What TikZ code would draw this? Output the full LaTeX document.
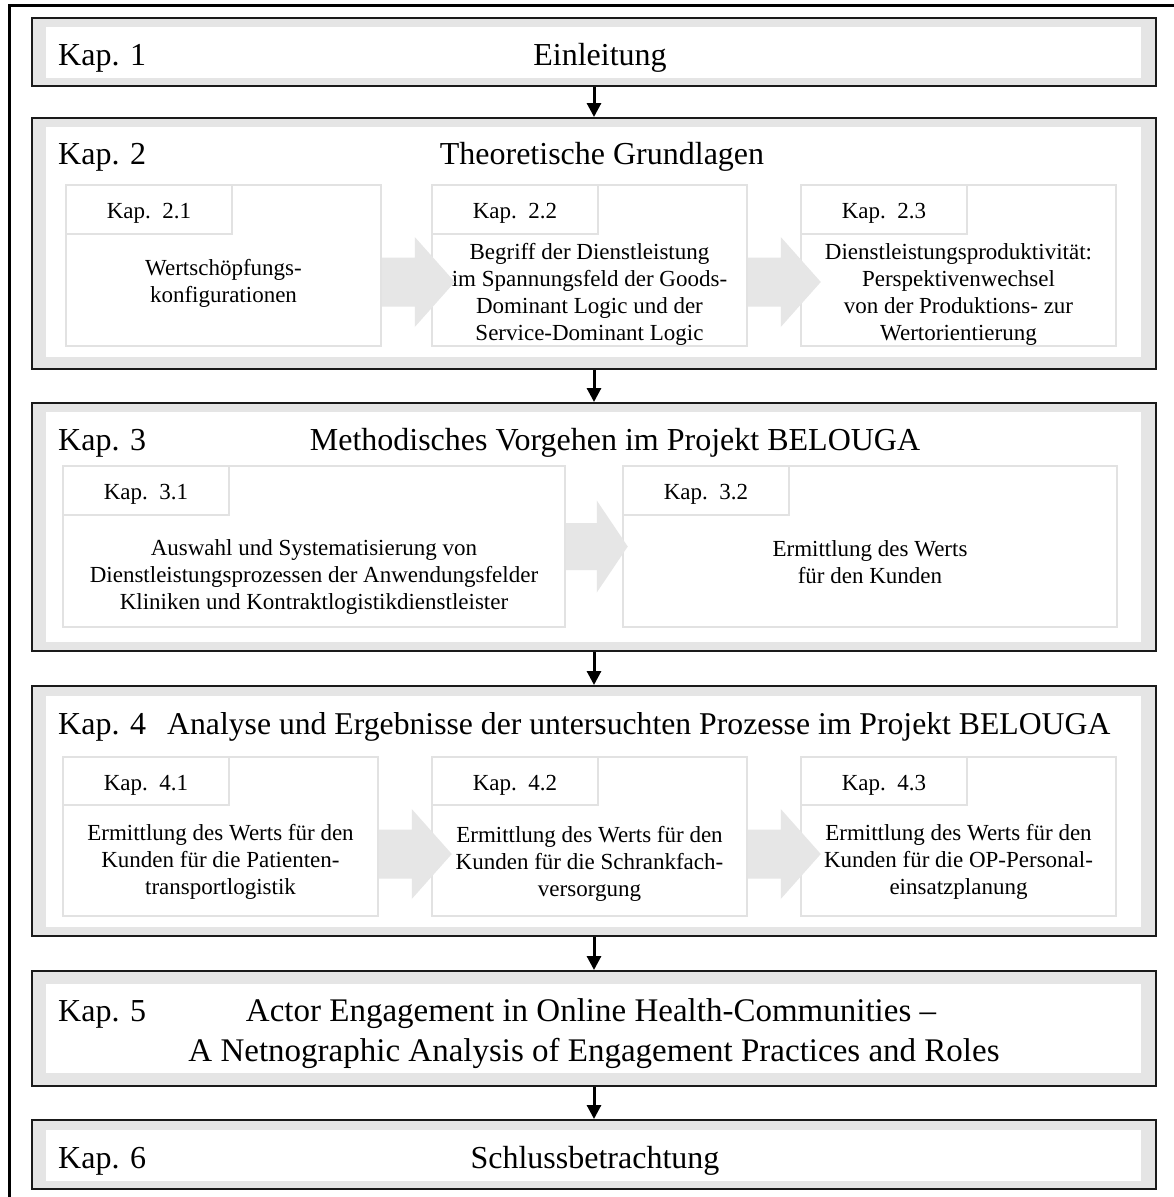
\documentclass[tikz,border=0pt]{standalone}
\usepackage{fontspec}
\setmainfont{Liberation Serif}
\usetikzlibrary{arrows.meta,calc}
\definecolor{band}{HTML}{E5E5E5}
\definecolor{subline}{HTML}{E2E2E2}
\definecolor{blockgrey}{HTML}{E6E6E6}
\definecolor{frameline}{HTML}{1A1A1A}
\tikzset{
  chapbox/.style={draw=frameline, line width=2pt, fill=band, minimum width=1124pt, inner sep=0pt},
  chapinner/.style={fill=white, minimum width=1095pt, inner sep=0pt},
  bigtext/.style={font=\fontsize{32}{40}\selectfont, inner sep=0pt, anchor=base},
  subbox/.style={draw=subline, line width=1.5pt, fill=white, inner sep=0pt, minimum height=161pt},
  subhead/.style={draw=subline, line width=1.5pt, inner sep=0pt, minimum width=166pt, minimum height=49pt, anchor=north west},
  subtext/.style={font=\fontsize{23}{27}\selectfont, align=center, inner sep=0pt, anchor=base},
  downarrow/.style={line width=3pt, -{Triangle[width=14pt,length=14pt]}},
  pics/blockarrow/.style={code={\fill[blockgrey] (0,-24.5) -- (33,-24.5) -- (33,-45) -- (73,0) -- (33,45) -- (33,24.5) -- (0,24.5) -- cycle;}},
  pics/blockarrowb/.style={code={\fill[blockgrey] (0,-23.5) -- (31,-23.5) -- (31,-46) -- (62,0) -- (31,46) -- (31,23.5) -- (0,23.5) -- cycle;}},
}
\begin{document}
\begin{tikzpicture}[x=1pt,y=-1pt]
\useasboundingbox (0,0) rectangle (1173,1197);
% outer frame (open to the right and bottom)
\draw[line width=3pt, line cap=rect] (9,1200) -- (9,5) -- (1176,5);

% chapter boxes
\node[chapbox, minimum height=68pt] (k1) at (594,52) {};
\node[chapinner, minimum height=51pt] (k1i) at (593.5,52.5) {};
\node[chapbox, minimum height=251pt] (k2) at (594,243.5) {};
\node[chapinner, minimum height=230pt] (k2i) at (593.5,242) {};
\node[chapbox, minimum height=248pt] (k3) at (594,527) {};
\node[chapinner, minimum height=230pt] (k3i) at (593.5,527) {};
\node[chapbox, minimum height=250pt] (k4) at (594,811) {};
\node[chapinner, minimum height=231pt] (k4i) at (593.5,811.5) {};
\node[chapbox, minimum height=115pt] (k5) at (594,1028.5) {};
\node[chapinner, minimum height=89pt] (k5i) at (593.5,1028.5) {};
\node[chapbox, minimum height=69pt] (k6) at (594,1154.5) {};
\node[chapinner, minimum height=51pt] (k6i) at (593.5,1155.5) {};

% connectors between chapters
\draw[downarrow] (k1.south) -- (k2.north);
\draw[downarrow] (k2.south) -- (k3.north);
\draw[downarrow] (k3.south) -- (k4.north);
\draw[downarrow] (k4.south) -- (k5.north);
\draw[downarrow] (k5.south) -- (k6.north);

% chapter titles
\node[bigtext, anchor=base west] (l1) at (58,65) {Kap. 1};
\node[bigtext] (t1) at (600,65) {Einleitung};
\node[bigtext, anchor=base west] (l2) at (58,164) {Kap. 2};
\node[bigtext] (t2) at (602,164) {Theoretische Grundlagen};
\node[bigtext, anchor=base west] (l3) at (58,450) {Kap. 3};
\node[bigtext] (t3) at (615,450) {Methodisches Vorgehen im Projekt BELOUGA};
\node[bigtext, anchor=base west] (l4) at (58,734) {Kap. 4};
\node[bigtext, anchor=base west, font=\fontsize{31.7}{40}\selectfont] (t4) at (167,734) {Analyse und Ergebnisse der untersuchten Prozesse im Projekt BELOUGA};
\node[bigtext, anchor=base west] (l5) at (58,1021) {Kap. 5};
\node[bigtext, font=\fontsize{33}{40}\selectfont] (t5a) at (591,1021) {Actor Engagement in Online Health-Communities --};
\node[bigtext, font=\fontsize{33}{40}\selectfont] (t5b) at (594,1061) {A Netnographic Analysis of Engagement Practices and Roles};
\node[bigtext, anchor=base west] (l6) at (58,1168) {Kap. 6};
\node[bigtext] (t6) at (595,1168) {Schlussbetrachtung};

% Kap. 2 sub-boxes
\node[subbox, minimum width=315pt] (s21) at (223.5,265.5) {};
\node[subbox, minimum width=315pt] (s22) at (589.5,265.5) {};
\node[subbox, minimum width=315pt] (s23) at (958.5,265.5) {};
\node[subhead] (h21) at (s21.north west) {};
\node[subhead] (h22) at (s22.north west) {};
\node[subhead] (h23) at (s23.north west) {};
\node[subtext] (h21t) at ($(h21.north)+(0,34)$) {Kap.~~2.1};
\node[subtext] (h22t) at ($(h22.north)+(0,34)$) {Kap.~~2.2};
\node[subtext] (h23t) at ($(h23.north)+(0,34)$) {Kap.~~2.3};
\node[subtext] (b21) at (223.5,302) {Wertschöpfungs-\\konfigurationen};
\node[subtext] (b22) at (589.5,340) {Begriff der Dienstleistung\\im Spannungsfeld der Goods-\\Dominant Logic und der\\Service-Dominant Logic};
\node[subtext] (b23) at (958.5,340) {Dienstleistungsproduktivität:\\Perspektivenwechsel\\von der Produktions- zur\\Wertorientierung};
\pic at ($(s21.east)+(0,16.5)$) {blockarrow};
\pic at ($(s22.east)+(0,16.5)$) {blockarrow};

% Kap. 3 sub-boxes
\node[subbox, minimum width=502pt] (s31) at (314,546.5) {};
\node[subbox, minimum width=494pt] (s32) at (870,546.5) {};
\node[subhead] (h31) at (s31.north west) {};
\node[subhead] (h32) at (s32.north west) {};
\node[subtext] (h31t) at ($(h31.north)+(0,34)$) {Kap.~~3.1};
\node[subtext] (h32t) at ($(h32.north)+(0,34)$) {Kap.~~3.2};
\node[subtext] (b31) at (314,609) {Auswahl und Systematisierung von\\Dienstleistungsprozessen der Anwendungsfelder\\Kliniken und Kontraktlogistikdienstleister};
\node[subtext] (b32) at (870,583) {Ermittlung des Werts\\für den Kunden};
\pic at (s31.east) {blockarrowb};

% Kap. 4 sub-boxes
\node[subbox, minimum width=315pt, minimum height=159pt] (s41) at (220.5,836.5) {};
\node[subbox, minimum width=315pt, minimum height=159pt] (s42) at (589.5,836.5) {};
\node[subbox, minimum width=315pt, minimum height=159pt] (s43) at (958.5,836.5) {};
\node[subhead, minimum height=48pt] (h41) at (s41.north west) {};
\node[subhead, minimum height=48pt] (h42) at (s42.north west) {};
\node[subhead, minimum height=48pt] (h43) at (s43.north west) {};
\node[subtext] (h41t) at ($(h41.north)+(0,34)$) {Kap.~~4.1};
\node[subtext] (h42t) at ($(h42.north)+(0,34)$) {Kap.~~4.2};
\node[subtext] (h43t) at ($(h43.north)+(0,34)$) {Kap.~~4.3};
\node[subtext] (b41) at (220.5,894) {Ermittlung des Werts für den\\Kunden für die Patienten-\\transportlogistik};
\node[subtext] (b42) at (589.5,896) {Ermittlung des Werts für den\\Kunden für die Schrankfach-\\versorgung};
\node[subtext] (b43) at (958.5,894) {Ermittlung des Werts für den\\Kunden für die OP-Personal-\\einsatzplanung};
\pic at ($(s41.east)+(0,17.5)$) {blockarrow};
\pic at ($(s42.east)+(0,17.5)$) {blockarrow};
\end{tikzpicture}
\end{document}
